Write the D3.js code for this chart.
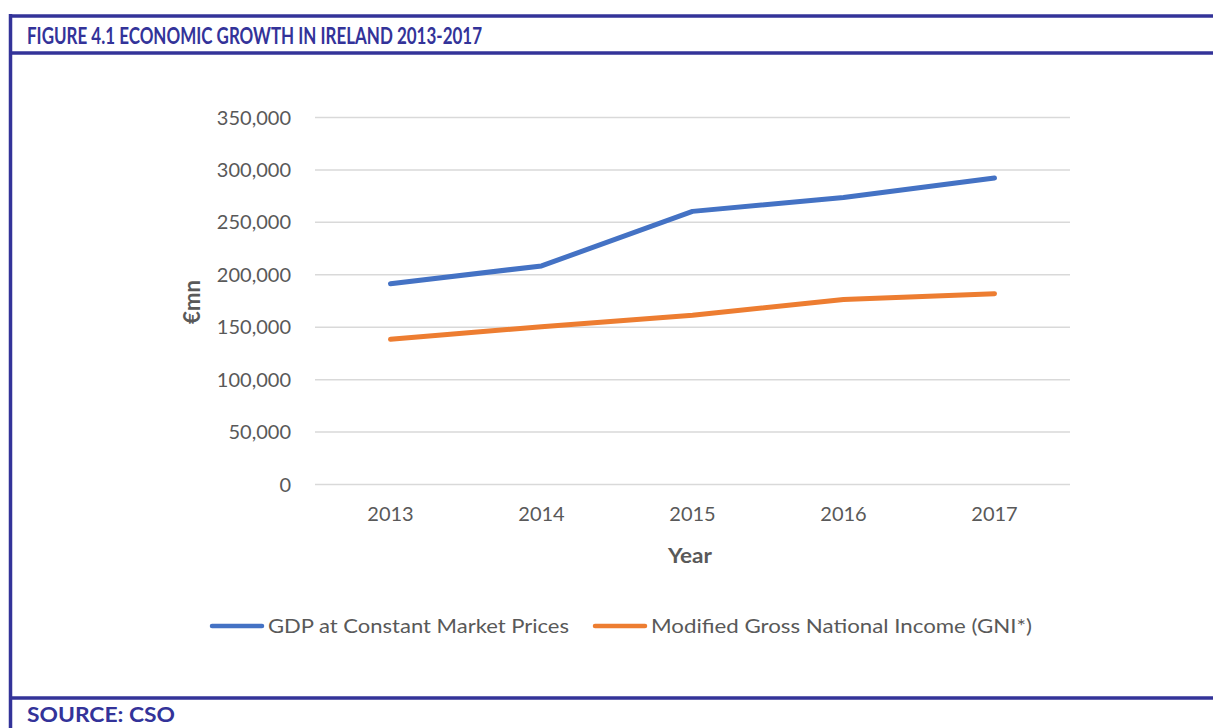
<!DOCTYPE html>
<html>
<head>
<meta charset="utf-8">
<script src="https://cdn.jsdelivr.net/npm/d3@7"></script>
<style>
  body { margin: 0; background: #fff; }
  svg { display: block; font-family: Lato, "Open Sans", sans-serif; }
</style>
</head>
<body>
<div id="chart"></div>
<script>
var years = ["2013", "2014", "2015", "2016", "2017"];
var gdpValues = [190900, 208000, 260000, 273300, 291800];
var gniValues = [138000, 150000, 161000, 176000, 181500];
var yTicks = [0, 50000, 100000, 150000, 200000, 250000, 300000, 350000];
var seriesNames = ["GDP at Constant Market Prices", "Modified Gross National Income (GNI*)"];
var seriesColors = ["#4472C4", "#ED7D31"];

var width = 1213, height = 728;
var frameColor = "#333399";

var svg = d3.select("#chart").append("svg")
  .attr("width", width)
  .attr("height", height);

// frame lines
svg.append("line").attr("x1", 10.5).attr("x2", 10.5).attr("y1", 14).attr("y2", height)
  .attr("stroke", frameColor).attr("stroke-width", 3.5);
[16, 53, 698].forEach(function (y) {
  svg.append("line").attr("x1", 9).attr("x2", width).attr("y1", y).attr("y2", y)
    .attr("stroke", frameColor).attr("stroke-width", 3.5);
});

svg.append("text")
  .attr("x", 27).attr("y", 44)
  .attr("fill", frameColor)
  .attr("font-weight", "bold")
  .attr("font-size", 22)
  .attr("textLength", 455)
  .attr("lengthAdjust", "spacingAndGlyphs")
  .text("FIGURE 4.1 ECONOMIC GROWTH IN IRELAND 2013-2017");

svg.append("text")
  .attr("x", 27).attr("y", 722)
  .attr("fill", frameColor)
  .attr("font-weight", "bold")
  .attr("font-size", 21)
  .attr("textLength", 148)
  .attr("lengthAdjust", "spacingAndGlyphs")
  .text("SOURCE: CSO");

// scales
var x = d3.scaleBand().domain(years).range([315, 1070]);
var y = d3.scaleLinear().domain([0, 350000]).range([484, 117]);

// gridlines
svg.append("g")
  .attr("transform", "translate(315,0)")
  .call(d3.axisLeft(y).tickValues(yTicks).tickSize(-755).tickFormat(""))
  .call(function (g) {
    g.select(".domain").remove();
    g.selectAll("line").attr("stroke", "#D9D9D9").attr("stroke-width", 1.5);
  });

// y tick labels
svg.append("g")
  .attr("transform", "translate(291,0)")
  .call(d3.axisLeft(y).tickValues(yTicks).tickSize(0).tickPadding(0).tickFormat(d3.format(",")))
  .call(function (g) {
    g.select(".domain").remove();
    g.selectAll("text").attr("fill", "#595959").attr("font-size", 20)
      .attr("font-family", "Lato, sans-serif").attr("dy", "0.35em");
  });

// x tick labels
svg.append("g")
  .attr("transform", "translate(0,484)")
  .call(d3.axisBottom(x).tickSize(0).tickPadding(23))
  .call(function (g) {
    g.select(".domain").remove();
    g.selectAll("text").attr("fill", "#595959").attr("font-size", 20)
      .attr("font-family", "Lato, sans-serif");
  });

// axis titles
svg.append("text")
  .attr("x", 690).attr("y", 563)
  .attr("text-anchor", "middle")
  .attr("fill", "#595959").attr("font-weight", "bold").attr("font-size", 21)
  .attr("textLength", 44)
  .attr("lengthAdjust", "spacingAndGlyphs")
  .text("Year");

svg.append("text")
  .attr("transform", "translate(200,302) rotate(-90)")
  .attr("text-anchor", "middle")
  .attr("fill", "#595959").attr("font-weight", "bold").attr("font-size", 22)
  .attr("textLength", 44)
  .attr("lengthAdjust", "spacingAndGlyphs")
  .text("€mn");

// lines
var line = d3.line()
  .x(function (d, i) { return x(years[i]) + x.bandwidth() / 2; })
  .y(function (d) { return y(d); });

[gdpValues, gniValues].forEach(function (vals, i) {
  svg.append("path")
    .datum(vals)
    .attr("d", line)
    .attr("fill", "none")
    .attr("stroke", seriesColors[i])
    .attr("stroke-width", 5)
    .attr("stroke-linecap", "round")
    .attr("stroke-linejoin", "round");
});

// legend
var legendX = [210, 593];
var legendLen = [301, 381];
seriesNames.forEach(function (name, i) {
  svg.append("line")
    .attr("x1", legendX[i] + 2).attr("x2", legendX[i] + 52)
    .attr("y1", 626).attr("y2", 626)
    .attr("stroke", seriesColors[i]).attr("stroke-width", 4.5)
    .attr("stroke-linecap", "round");
  svg.append("text")
    .attr("x", legendX[i] + 58).attr("y", 633)
    .attr("fill", "#595959").attr("font-size", 20)
    .attr("textLength", legendLen[i])
    .attr("lengthAdjust", "spacingAndGlyphs")
    .text(name);
});
</script>
</body>
</html>
